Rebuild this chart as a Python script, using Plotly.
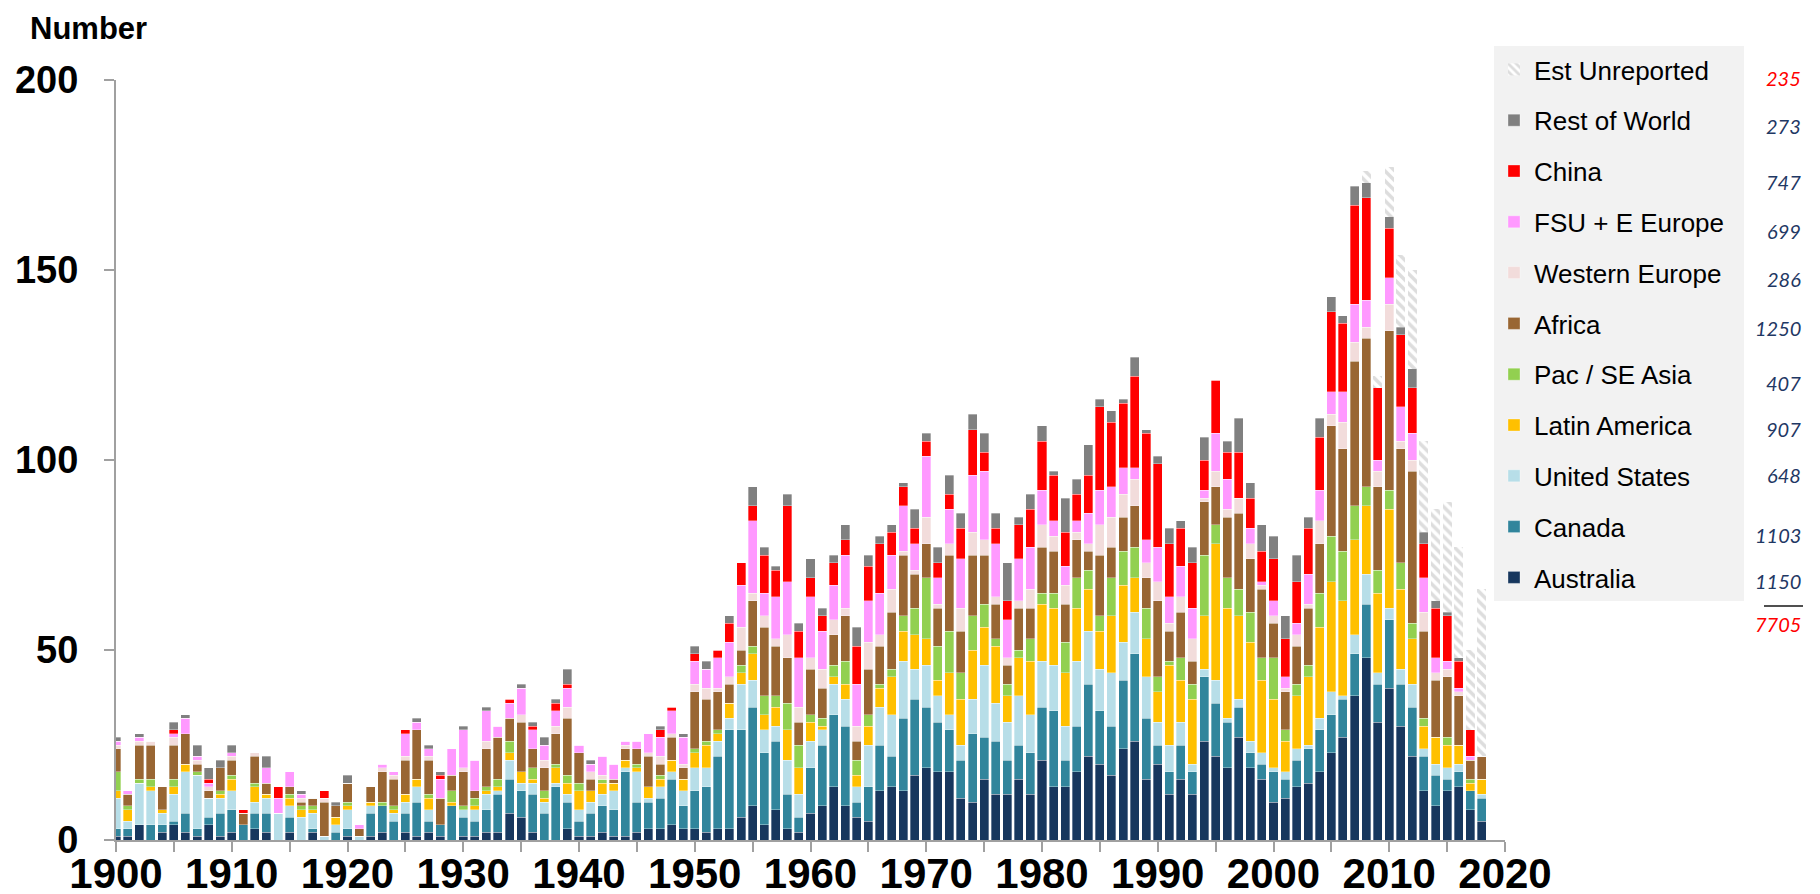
import plotly.graph_objects as go

years = list(range(1900, 2019))

australia = [1,1,4,0,2,4,2,1,4,1, 2,0,3,2,0,2,0,2,0,0, 1,0,1,2,0,2,1,2,1,0, 1,1,2,2,7,6,2,0,0,3,
             1,1,2,1,1,2,3,3,4,3, 3,2,3,3,6,9,4,8,3,2, 7,9,14,9,6,5,13,14,13,17, 19,18,18,11,10,16,12,12,16,12,
             21,14,14,18,22,20,17,24,26,16, 20,12,16,12,26,22,19,27,19,16, 10,11,14,15,18,23,27,38,48,31,
             40,30,22,13,9,13,14,8,5]
canada = [2,2,0,4,2,1,5,2,2,6, 6,4,4,5,0,4,0,1,0,2, 2,0,6,7,5,5,9,3,3,9, 5,4,6,10,9,7,10,7,14,7,
          4,6,7,7,17,8,7,8,12,6, 10,12,19,26,23,26,19,18,9,4, 12,16,19,21,4,9,12,8,19,20, 16,13,11,10,18,11,14,9,9,11,
          14,20,7,12,19,14,13,18,23,16, 5,6,9,6,17,14,12,8,4,4, 8,5,7,9,11,10,10,11,14,10,
          18,11,13,9,8,3,4,5,6]
united_states = [8,2,11,9,3,7,11,14,5,4, 5,0,3,4,7,3,6,4,1,2, 5,1,2,0,2,3,4,3,0,0, 2,3,4,1,5,2,3,3,1,2,
                 3,3,3,5,1,8,1,3,2,4, 6,5,4,3,12,7,6,4,9,6, 7,4,8,7,4,11,10,11,15,8, 11,7,4,4,9,19,10,10,13,10,
                 12,12,9,17,14,11,14,10,11,11, 6,7,6,2,2,6,1,2,3,3, 1,2,3,1,3,6,1,5,8,3,
                 3,4,6,2,3,3,2,0,1]
latin_america = [2,3,0,1,1,2,2,0,0,1, 3,0,4,1,0,2,2,1,0,2, 1,0,1,0,1,2,2,3,0,1, 0,1,1,1,2,3,1,1,4,3,
                 5,3,3,2,2,1,3,2,3,3, 4,6,2,4,3,7,4,5,8,7, 5,1,2,4,3,5,5,10,8,9, 7,4,11,12,13,10,15,7,10,14,
                 15,15,14,14,11,10,15,15,9,10, 8,21,11,17,14,36,29,22,26,19, 18,8,14,18,24,29,25,25,18,21,
                 26,21,12,6,7,6,5,2,4]
pac_se_asia = [5,1,1,2,0,2,0,1,0,1, 1,0,1,0,0,1,1,1,0,0, 1,0,0,1,1,0,0,1,0,3, 1,2,1,2,3,0,3,2,1,2,
               2,0,1,0,0,1,0,1,0,0, 1,1,1,0,2,2,5,3,7,6, 2,2,3,6,4,3,1,2,4,7, 16,9,11,7,9,6,2,3,2,6,
               3,4,8,8,5,4,10,9,8,8, 4,1,6,4,16,5,8,7,8,6, 11,3,3,3,9,12,13,9,5,6,
               5,7,4,2,0,2,0,1,0]
africa = [6,3,9,9,6,9,8,2,2,6, 4,3,7,3,0,2,1,2,9,3, 5,2,4,8,7,9,13,9,7,4, 9,2,10,11,6,13,5,6,8,15,
          8,3,0,1,3,4,8,3,6,3, 15,11,10,5,4,12,18,13,12,6, 12,8,8,12,5,12,10,15,16,9, 9,10,20,11,16,13,9,5,11,8,
          12,11,10,10,5,16,8,9,11,8, 20,8,12,6,14,10,16,20,14,18, 9,10,10,15,13,29,27,38,39,22,
          42,30,40,23,15,16,13,5,6]
western_europe = [1,0,1,1,0,2,0,1,1,0, 1,0,1,0,0,0,1,0,1,0, 0,0,0,1,1,1,0,1,0,0, 1,0,2,0,0,2,0,2,2,3,
                  0,2,1,0,1,0,1,2,1,1, 2,3,1,2,6,2,3,2,6,4, 3,5,4,2,4,7,3,6,1,1, 7,1,3,6,6,4,2,2,2,5,
                  6,4,5,2,2,8,8,6,7,4, 5,2,4,6,1,4,2,4,4,1, 2,1,3,1,6,3,7,5,3,4,
                  7,2,3,5,2,2,1,0,0]
fsu_e_europe = [1,1,1,0,0,1,4,1,1,0, 1,0,0,4,4,4,1,0,0,0, 0,1,0,1,1,6,2,2,5,7, 10,8,8,3,4,7,5,4,4,5,
                2,2,5,4,1,2,5,5,6,7, 6,5,8,9,11,19,6,11,14,13, 16,10,9,14,11,11,11,9,12,7, 16,7,9,13,15,18,14,10,11,11,
                9,4,5,3,8,9,8,7,3,6, 9,7,8,8,2,10,8,0,4,1, 4,3,3,8,8,6,8,10,7,3,
                7,9,7,9,4,2,1,1,0]
china = [0,0,0,0,0,1,0,0,1,0, 0,1,0,0,3,0,0,0,2,0, 0,0,0,0,0,1,0,0,1,0, 0,0,0,0,1,0,1,0,2,1,
         0,0,0,0,0,0,0,2,1,0, 2,0,2,5,6,4,10,7,20,7, 5,4,6,4,10,9,13,6,5,4, 4,4,4,8,12,5,4,5,9,10,
         13,12,9,7,10,22,17,17,24,28, 22,14,10,12,8,14,7,12,8,8, 11,10,11,12,14,21,18,26,27,19,
         13,19,12,9,13,12,7,7,0]
rest_of_world = [1,0,1,0,0,2,1,3,3,2, 2,0,0,3,0,0,1,0,0,1, 2,0,0,0,0,0,1,1,1,0, 1,0,1,0,0,1,1,2,1,4,
                 0,1,0,0,0,0,0,1,0,1, 2,2,0,2,0,5,2,1,3,2, 5,2,2,4,5,3,2,2,1,5, 2,4,5,4,4,5,4,10,2,4,
                 4,1,9,4,8,2,3,1,5,1, 2,4,2,4,6,0,3,9,4,7, 6,6,7,3,5,4,2,5,4,0,
                 3,2,5,3,2,1,1,0,0]
est_unreported = [0]*108 + [3,3,13,19,26,24,24,29,29,21,44]

series_names = ["Australia", "Canada", "United States", "Latin America", "Pac / SE Asia",
                "Africa", "Western Europe", "FSU + E Europe", "China", "Rest of World", "Est Unreported"]
series_values = [australia, canada, united_states, latin_america, pac_se_asia, africa,
                 western_europe, fsu_e_europe, china, rest_of_world, est_unreported]
series_colors = ["#17375E", "#31859C", "#B7DEE8", "#FFC000", "#92D050", "#996633",
                 "#F2DCDB", "#FF99FF", "#FF0000", "#808080", "#FFFFFF"]
legend_totals = ["1150", "1103", "648", "907", "407", "1250", "286", "699", "747", "273", "235"]
grand_total = "7705"

x_ticks = list(range(1900, 2021, 5))
x_ticktext = [str(v) if v % 10 == 0 else "" for v in x_ticks]
y_ticks = [0, 50, 100, 150, 200]

# pixel geometry of the plot area
L, R, T, B = 108, 1497, 72, 832
W, H = 1820, 894


def px(xp):
    return (xp - L) / (R - L)


def py(yp):
    return (B - yp) / (B - T)


fig = go.Figure()
n = len(series_names)
for i, (name, vals, col) in enumerate(zip(series_names, series_values, series_colors)):
    if name == "Est Unreported":
        marker = dict(color="white",
                      pattern=dict(shape="\\", fgcolor="#BBBBBB", bgcolor="white",
                                   size=7, solidity=0.5, fillmode="overlay"),
                      line=dict(color="rgba(255,255,255,0)", width=0))
    else:
        marker = dict(color=col, line=dict(color="rgba(255,255,255,0.55)", width=0.6))
    legend_label = name + "\u00a0\u00a0" if name == "FSU + E Europe" else name
    fig.add_trace(go.Bar(x=years, y=vals, name=legend_label, marker=marker,
                         legendgroup=name, legendrank=100 + (n - i),
                         hoverinfo="x+y+name"))

axis_font = dict(family="Liberation Sans, Arial, sans-serif", color="black", weight="bold")

fig.update_layout(
    width=W, height=H,
    barmode="stack", bargap=0.22,
    plot_bgcolor="white", paper_bgcolor="white",
    margin=dict(l=L, r=W - R, t=T, b=H - B, autoexpand=False),
    font=dict(family="Liberation Sans, Arial, sans-serif", color="black"),
    xaxis=dict(range=[1900, 2020], tickvals=x_ticks, ticktext=x_ticktext,
               ticks="outside", ticklen=10, tickwidth=2, tickcolor="#A0A0A0",
               showline=True, linecolor="#A0A0A0", linewidth=2,
               showgrid=False, zeroline=False, automargin=False,
               tickfont=dict(size=42, **axis_font), ticklabelstandoff=-14),
    yaxis=dict(range=[0, 200], tickvals=y_ticks,
               ticks="outside", ticklen=10, tickwidth=2, tickcolor="#A0A0A0",
               showline=True, linecolor="#A0A0A0", linewidth=2,
               showgrid=False, zeroline=False, automargin=False,
               tickfont=dict(size=38, **axis_font), ticklabelstandoff=18),
    legend=dict(x=px(1486), xanchor="left", y=py(38), yanchor="top",
                bgcolor="#F2F2F2", borderwidth=0, maxheight=700,
                font=dict(size=26, family="Liberation Sans, Arial, sans-serif", color="black"),
                traceorder="grouped", tracegroupgap=14, itemwidth=30),
    showlegend=True,
)

fig.add_annotation(text="<b>Number</b>", xref="paper", yref="paper",
                   x=px(20), y=py(20), xanchor="left", yanchor="middle", showarrow=False,
                   font=dict(size=31, family="Liberation Sans, Arial, sans-serif", color="black"))

# legend totals (top to bottom)
total_y = [70, 118, 174, 223, 271, 320, 375, 421, 467, 527, 573]
for label, yp, name in zip(legend_totals[::-1], total_y, series_names[::-1]):
    colr = "#FF0000" if name == "Est Unreported" else "#1F3864"
    fig.add_annotation(text="<i>%s</i>" % label, xref="paper", yref="paper",
                       x=px(1795), y=py(yp), xanchor="right", yanchor="middle", showarrow=False,
                       font=dict(size=20, family="Lato, Open Sans, sans-serif", color=colr))
fig.add_annotation(text="<i>%s</i>" % grand_total, xref="paper", yref="paper",
                   x=px(1795), y=py(616), xanchor="right", yanchor="middle", showarrow=False,
                   font=dict(size=20, family="Lato, Open Sans, sans-serif", color="#FF0000"))
fig.add_shape(type="line", xref="paper", yref="paper",
              x0=px(1756), x1=px(1795), y0=py(598), y1=py(598),
              line=dict(color="#505050", width=2))

fig.write_html("out.html")
